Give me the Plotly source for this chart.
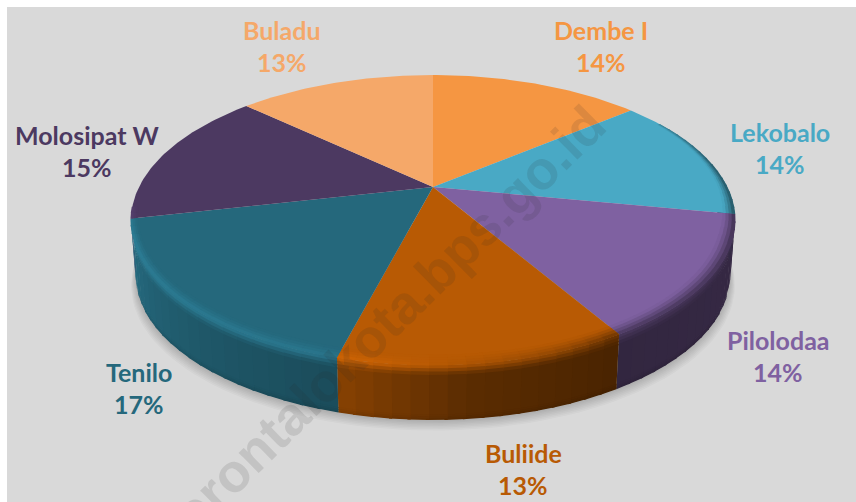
import numpy as np
import plotly.graph_objects as go

# ---- data ----
categories = ["Dembe I", "Lekobalo", "Pilolodaa", "Buliide", "Tenilo", "Molosipat W", "Buladu"]
shares = [14.0, 14.0, 13.5, 12.6, 17.4, 15.4, 13.1]

# ---- styles ----
colors = ["#f59642", "#49a9c5", "#7f61a1", "#b85a04", "#25687c", "#4c3961", "#f5a869"]
label_x = [601, 780, 778, 523, 139, 87, 282]
label_y = [30, 132, 340, 453, 372, 135, 30]
LINE_GAP = 32
FONT = "Lato"
FONT_SIZE = 25
BG = "#d9d9d9"
CX, CY = 433.0, 187.0
A, B, K = 294.0, 137.5, 0.2276
WALL = 55.0
WALL_SCALE = 0.985
WALL_END = 258.0
OVER = 0.5

# shading against the angle round the pie (degrees clockwise from the top)
wall_ang = [85, 95, 120, 150, 175, 190, 195, 215, 235, 250, 262]
wall_mul = [0.42, 0.42, 0.42, 0.40, 0.50, 0.68, 0.74, 0.82, 0.92, 1.02, 1.08]
rim_ang = [50, 60, 80, 100, 120, 150, 160, 175, 190, 200, 250, 262]
rim_mul = [1.0, 0.72, 0.5, 0.48, 0.52, 0.58, 0.78, 0.95, 1.1, 1.15, 1.22, 1.1]
rim_w_ang = [50, 60, 90, 110, 200, 262]
rim_w = [0.0, 0.012, 0.03, 0.045, 0.045, 0.02]


def project(theta, rho=1.0, drop=0.0, xs=1.0):
    t = np.radians(theta)
    u, v = rho * np.sin(t), -rho * np.cos(t)
    d = 1 - K * v
    return CX + xs * A * u / d, CY + B * v / d + drop


def rgb(hexc):
    return np.array([int(hexc[i:i + 2], 16) for i in (1, 3, 5)], float)


def css(c):
    c = np.clip(c, 0, 255)
    return f"rgb({int(c[0])},{int(c[1])},{int(c[2])})"


fig = go.Figure()


def poly(xs, ys, color):
    fig.add_trace(go.Scatter(
        x=list(xs), y=list(ys), mode="lines", fill="toself", fillcolor=color,
        line=dict(color=color, width=0), hoverinfo="skip", showlegend=False))


edges = np.concatenate([[0], np.cumsum(shares)]) / sum(shares) * 360.0

# soft shadow beneath the pie
for i in range(7):
    th = np.linspace(80, 275, 90)
    x, y = project(th, 1.0, WALL + 1.5 * (7 - i), WALL_SCALE + 0.0025 * (6 - i))
    poly(x, y, "rgba(0,0,0,0.028)")

# outer wall
for s in range(len(shares)):
    a0, a1 = max(edges[s], 85.0), min(edges[s + 1], WALL_END)
    if a1 <= a0:
        continue
    n = max(2, int((a1 - a0) / 3) + 1)
    grid = np.linspace(a0, a1, n + 1)
    base = rgb(colors[s])
    for g0, g1 in zip(grid[:-1], grid[1:]):
        m = 0.5 * (g0 + g1)
        wc = base * np.interp(m, wall_ang, wall_mul)
        rc = base * np.interp(m, rim_ang, rim_mul)
        stops = [(0.0, rc), (0.18, wc), (0.9, wc), (1.0, wc * 0.9)]
        for (s0, c0), (s1, c1) in zip(stops[:-1], stops[1:]):
            steps = 1 if s0 == 0.18 else 3
            for j in range(steps):
                f0, f1 = j / steps, (j + 1) / steps
                z0 = s0 + (s1 - s0) * f0
                z1 = min(1.0, s0 + (s1 - s0) * f1 + 0.02)
                col = c0 + (c1 - c0) * (f0 + f1) / 2
                tt = np.array([g0, min(g1 + OVER, a1)])
                xa, ya = project(tt, 1, WALL * z0, 1 - (1 - WALL_SCALE) * z0)
                xb, yb = project(tt, 1, WALL * z1, 1 - (1 - WALL_SCALE) * z1)
                poly([xa[0], xa[1], xb[1], xb[0], xa[0]], [ya[0], ya[1], yb[1], yb[0], ya[0]], css(col))

# top faces
for s in range(len(shares)):
    th = np.linspace(edges[s], edges[s + 1], 60)
    x, y = project(th)
    poly([CX, *x, CX], [CY, *y, CY], colors[s])

# bevel round the edge of the top face
for s in range(len(shares)):
    a0, a1 = max(edges[s], 50.0), min(edges[s + 1], 262.0)
    if a1 <= a0:
        continue
    n = max(2, int((a1 - a0) / 3) + 1)
    grid = np.linspace(a0, a1, n + 1)
    base = rgb(colors[s])
    for g0, g1 in zip(grid[:-1], grid[1:]):
        m = 0.5 * (g0 + g1)
        rc = base * np.interp(m, rim_ang, rim_mul)
        w = np.interp(m, rim_w_ang, rim_w)
        for j in range(4):
            r0, r1 = 1 - w * (1 - j / 4), 1 - w * (1 - (j + 1) / 4)
            col = base + (rc - base) * ((j + 0.5) / 4) ** 1.3
            tt = np.array([g0, min(g1 + OVER, a1)])
            xa, ya = project(tt, r0)
            xb, yb = project(tt, r1 + 0.002)
            poly([xa[0], xa[1], xb[1], xb[0], xa[0]], [ya[0], ya[1], yb[1], yb[0], ya[0]], css(col))

# labels
annotations = []
for name, v, lx, ly, c in zip(categories, shares, label_x, label_y, colors):
    annotations.append(dict(x=lx, y=ly, text=f"<b>{name}</b>", showarrow=False, xanchor="center", yanchor="middle",
                            font=dict(family=FONT, size=FONT_SIZE, color=c)))
    annotations.append(dict(x=lx, y=ly + LINE_GAP, text=f"<b>{round(v)}%</b>", showarrow=False, xanchor="center",
                            yanchor="middle", font=dict(family=FONT, size=FONT_SIZE, color=c)))
# watermark
annotations.append(dict(x=376, y=331, text="<b>gorontalokota.bps.go.id</b>", textangle=-44.5, showarrow=False,
                        xanchor="center", yanchor="middle",
                        font=dict(family="Liberation Sans", size=54, color="rgba(40,40,40,0.12)")))

fig.update_layout(
    width=856, height=502, margin=dict(l=0, r=0, t=0, b=0),
    paper_bgcolor="white", plot_bgcolor="white", showlegend=False,
    xaxis=dict(range=[0, 856], visible=False, fixedrange=True),
    yaxis=dict(range=[502, 0], visible=False, fixedrange=True),
    shapes=[dict(type="rect", x0=7, y0=7, x1=856, y1=502, fillcolor=BG, line_width=0, layer="below")],
    annotations=annotations,
)
fig.write_html("out.html", config={"displayModeBar": False},
               post_script="document.body.style.margin='0';document.documentElement.style.overflow='hidden';")
